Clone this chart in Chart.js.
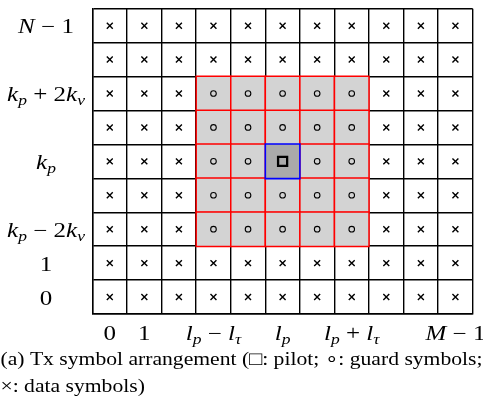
<!DOCTYPE html>
<html>
<head>
<meta charset="utf-8">
<script src="https://cdn.jsdelivr.net/npm/chart.js@4/dist/chart.umd.min.js"></script>
<style>
  html, body { margin: 0; padding: 0; background: #fff; overflow: hidden; }
  #wrap { width: 483px; height: 407px; position: relative; }
</style>
</head>
<body>
<div id="wrap"><canvas id="c"></canvas></div>
<script>
// Axis labels (delay index l along x, Doppler index k along y)
const xTickValues = [0, 1, 3, 5, 7, 10];
const xTickLabels = ['0', '1', 'l_p − l_τ', 'l_p', 'l_p + l_τ', 'M − 1'];
const yTickValues = [0, 1, 2, 4, 6, 8];
const yTickLabels = ['0', '1', 'k_p − 2k_ν', 'k_p', 'k_p + 2k_ν', 'N − 1'];

// Symbol grid, top row first: x = data, o = guard, p = pilot
const symbolRows = [
  'xxxxxxxxxxx',
  'xxxxxxxxxxx',
  'xxxoooooxxx',
  'xxxoooooxxx',
  'xxxoopooxxx',
  'xxxoooooxxx',
  'xxxoooooxxx',
  'xxxxxxxxxxx',
  'xxxxxxxxxxx'
];

const captionLines = [
  '(a) Tx symbol arrangement (□: pilot; ∘: guard symbols;',
  '×: data symbols)'
];

const nRows = symbolRows.length;
const nCols = symbolRows[0].length;

const dataCells = [], guardCells = [], pilotCells = [];
symbolRows.forEach((row, r) => {
  [...row].forEach((ch, c) => {
    const pt = { x: c, y: nRows - 1 - r };
    if (ch === 'x') dataCells.push(pt);
    else if (ch === 'o') guardCells.push(pt);
    else if (ch === 'p') pilotCells.push(pt);
  });
});

// Half the cell size expressed as a 'rect' point radius
function cellRadius(ctx) {
  const s = ctx.chart.scales.x;
  if (!s) return 0;
  return Math.abs(s.getPixelForValue(1) - s.getPixelForValue(0)) / 2 / Math.SQRT1_2;
}

// Math-style label: letters italic, digits/operators upright, _c = subscript
const BASE = 20, SUB = 14;
const FONT_I = 'italic ' + BASE + 'px "Liberation Serif"';
const FONT_R = BASE + 'px "Liberation Serif"';
const FONT_S = 'italic ' + SUB + 'px "Liberation Serif"';
function parseMath(str) {
  const segs = [];
  const chars = [...str];
  for (let i = 0; i < chars.length; i++) {
    const ch = chars[i];
    if (ch === '_') { segs.push({ t: chars[++i], f: FONT_S, dy: 4 }); continue; }
    const isLetter = /[A-Za-z\u0370-\u03FF]/.test(ch);
    segs.push({ t: ch, f: isLetter ? FONT_I : FONT_R, dy: 0 });
  }
  return segs;
}
function drawMath(ctx, str, cx, baseline, sx) {
  const segs = parseMath(str);
  let w = 0;
  segs.forEach(s => { ctx.font = s.f; s.w = ctx.measureText(s.t).width; w += s.w; });
  ctx.save();
  ctx.translate(cx, baseline);
  ctx.scale(sx, 1);
  let x = -w / 2;
  ctx.fillStyle = '#000';
  ctx.textBaseline = 'alphabetic';
  ctx.textAlign = 'left';
  segs.forEach(s => { ctx.font = s.f; ctx.fillText(s.t, x, s.dy); x += s.w; });
  ctx.restore();
}

const mathLabels = {
  id: 'mathLabels',
  afterDraw(chart) {
    const ctx = chart.ctx;
    const xs = chart.scales.x, ys = chart.scales.y;
    xTickValues.forEach((v, i) => drawMath(ctx, xTickLabels[i], xs.getPixelForValue(v), xs.top + 26, 1.25));
    yTickValues.forEach((v, i) => drawMath(ctx, yTickLabels[i], 46, ys.getPixelForValue(v) + 7.5, 1.25));
  }
};

const caption = {
  id: 'caption',
  afterDraw(chart) {
    const ctx = chart.ctx;
    ctx.save();
    ctx.font = '19px "Liberation Serif"';
    ctx.fillStyle = '#000';
    ctx.textAlign = 'left';
    ctx.textBaseline = 'alphabetic';
    const sx = 482 / ctx.measureText(captionLines[0]).width;
    const base = chart.scales.x.bottom;
    captionLines.forEach((line, i) => {
      ctx.save();
      ctx.translate(0.5, base - 42 + i * 27);
      ctx.scale(sx, 1);
      ctx.fillText(line, 0, 0);
      ctx.restore();
    });
    ctx.restore();
  }
};

const integerTicks = n => scale => { scale.ticks = Array.from({ length: n }, (_, i) => ({ value: i })); };

new Chart(document.getElementById('c'), {
  type: 'scatter',
  data: {
    datasets: [
      { label: 'data', data: dataCells, pointStyle: 'crossRot', pointRadius: 4.2,
        borderColor: '#000', borderWidth: 1.4, backgroundColor: '#000', order: 0 },
      { label: 'guard', data: guardCells, pointStyle: 'circle', pointRadius: 2.8,
        borderColor: '#000', borderWidth: 1.1, backgroundColor: 'rgba(0,0,0,0)', order: 0 },
      { label: 'pilot', data: pilotCells, pointStyle: 'rect', pointRadius: 6.4,
        borderColor: '#000', borderWidth: 2.3, backgroundColor: 'rgba(0,0,0,0)', order: 0 },
      { label: 'pilot cell', data: pilotCells, pointStyle: 'rect', pointRadius: cellRadius,
        borderColor: '#0000ff', borderWidth: 1.6, backgroundColor: '#aaaaaa', order: 1 },
      { label: 'guard cells', data: guardCells, pointStyle: 'rect', pointRadius: cellRadius,
        borderColor: '#ff0000', borderWidth: 1.5, backgroundColor: '#d3d3d3', order: 2 }
    ]
  },
  options: {
    responsive: true,
    maintainAspectRatio: false,
    animation: false,
    events: [],
    layout: { padding: { top: 3.3, right: 10.3, left: 0, bottom: 0 } },
    plugins: { legend: { display: false }, tooltip: { enabled: false } },
    scales: {
      x: {
        type: 'linear', min: -0.5, max: nCols - 0.5,
        afterBuildTicks: integerTicks(nCols),
        afterFit: s => { s.height = 93; },
        ticks: { display: false },
        grid: { offset: true, color: '#000', lineWidth: 1.4, drawTicks: false },
        border: { color: '#000', width: 1.4 }
      },
      y: {
        type: 'linear', min: -0.5, max: nRows - 0.5,
        afterBuildTicks: integerTicks(nRows),
        afterFit: s => { s.width = 92.5; },
        ticks: { display: false },
        grid: { offset: true, color: '#000', lineWidth: 1.4, drawTicks: false },
        border: { color: '#000', width: 1.4 }
      }
    }
  },
  plugins: [mathLabels, caption]
});
</script>
</body>
</html>
